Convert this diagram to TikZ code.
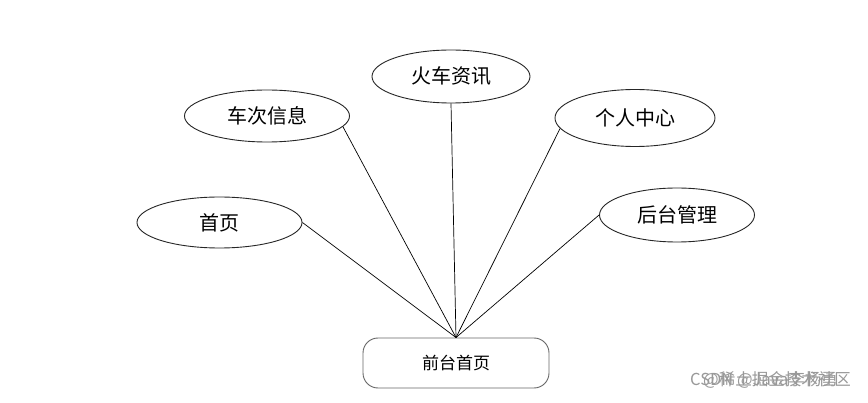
\documentclass[tikz,border=0pt]{standalone}
\usepackage{fontspec}
\newfontfamily\cjk{Noto Sans CJK SC}
\usetikzlibrary{shapes.geometric}
\begin{document}
\begin{tikzpicture}[x=1pt,y=-1pt,
  ell/.style={draw=black!85,line width=0.9pt,ellipse,inner sep=0pt,font=\cjk\fontsize{20}{20}\selectfont},
  rbox/.style={draw=black!60,line width=0.9pt,rounded corners=15pt,inner sep=0pt,font=\cjk\fontsize{17}{17}\selectfont},
  link/.style={draw=black,line width=0.7pt},
  wm/.style={text=black!40,font=\cjk\fontsize{16.5}{16.5}\selectfont,inner sep=0pt}]
\useasboundingbox[fill=white] (0,0) rectangle (868,403);
\node[ell,minimum width=165pt,minimum height=51pt] (shouye) at (219.5,222.5) {首页};
\node[ell,minimum width=165pt,minimum height=52pt] (checi) at (267,116) {车次信息};
\node[ell,minimum width=158pt,minimum height=53pt] (huoche) at (451,76.5) {火车资讯};
\node[ell,minimum width=160pt,minimum height=57pt] (geren) at (635,118) {个人中心};
\node[ell,minimum width=155pt,minimum height=54pt] (houtai) at (677,215) {后台管理};
\node[rbox,minimum width=186pt,minimum height=50pt] (qiantai) at (456,363) {前台首页};
\draw[link] (qiantai.north) -- (shouye.east);
\draw[link] (qiantai.north) -- (checi.-8);
\draw[link] (qiantai.north) -- (huoche.south);
\draw[link] (qiantai.north) -- (geren.188);
\draw[link] (qiantai.north) -- (houtai.west);
\node[wm,anchor=west] (wm1) at (690,380) {CSDN @Java李杨勇};
\node[wm,anchor=west] (wm2) at (703,380) {@稀土掘金技术社区};
\end{tikzpicture}
\end{document}
